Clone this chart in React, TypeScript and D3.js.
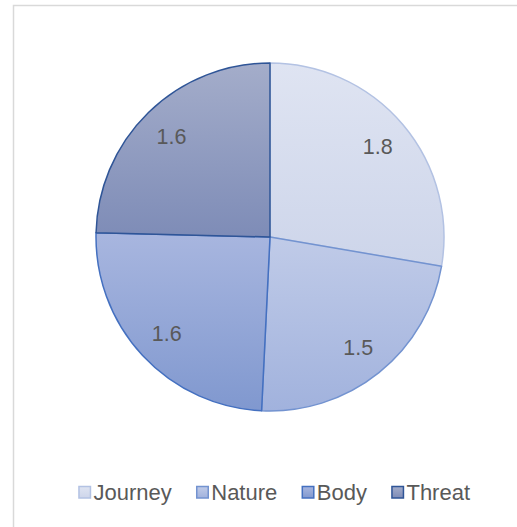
import * as d3 from 'd3';
import { useEffect, useRef } from 'react';

const categories = ['Journey', 'Nature', 'Body', 'Threat'];
const values = [1.8, 1.5, 1.6, 1.6];
const gradTop = ['#dfe4f2', '#c0cbe8', '#a8b6df', '#a4adca'];
const gradBottom = ['#cdd5ea', '#a1b2dd', '#8098cf', '#7e8cb7'];
const strokes = ['#b3c2e3', '#7393d0', '#4470c0', '#2f5597'];

export default function App() {
  const svgRef = useRef<SVGSVGElement>(null);

  useEffect(() => {
    const svgElement = svgRef.current;
    if (!svgElement) return;
    const svg = d3.select(svgElement);
    svg.selectAll('*').remove();

    const width = 517;
    const height = 527;
    const cx = 270;
    const cy = 237;
    const radius = 174;
    const font = '"Liberation Sans", Arial, sans-serif';

    // chart border (runs off the right/bottom edge)
    svg
      .append('rect')
      .attr('x', 13.5)
      .attr('y', 5.5)
      .attr('width', width + 20)
      .attr('height', height + 20)
      .attr('fill', '#fff')
      .attr('stroke', '#d9d9d9')
      .attr('stroke-width', 1.5);

    const defs = svg.append('defs');
    categories.forEach((c, i) => {
      const g = defs
        .append('linearGradient')
        .attr('id', `grad-${i}`)
        .attr('x1', 0)
        .attr('y1', 0)
        .attr('x2', 0)
        .attr('y2', 1);
      g.append('stop').attr('offset', '0%').attr('stop-color', gradTop[i]);
      g.append('stop').attr('offset', '100%').attr('stop-color', gradBottom[i]);
    });

    const data = categories.map((c, i) => ({ name: c, value: values[i], i }));
    const pie = d3.pie<any>().sort(null).value((d) => d.value);
    const arc = d3.arc<any>().innerRadius(0).outerRadius(radius);
    const labelArc = d3.arc<any>().innerRadius(141).outerRadius(141);

    const g = svg.append('g').attr('transform', `translate(${cx},${cy})`);
    const arcs = pie(data);

    g.selectAll('path')
      .data(arcs)
      .join('path')
      .attr('d', arc)
      .attr('fill', (d) => `url(#grad-${d.data.i})`)
      .attr('stroke', (d) => strokes[d.data.i])
      .attr('stroke-width', 1.5)
      .attr('stroke-linejoin', 'round');

    g.selectAll('text.label')
      .data(arcs)
      .join('text')
      .attr('class', 'label')
      .attr('transform', (d) => `translate(${labelArc.centroid(d)})`)
      .attr('text-anchor', 'middle')
      .attr('dy', '0.36em')
      .attr('font-family', font)
      .attr('font-size', '21.5px')
      .attr('fill', '#595959')
      .text((d) => d.data.value.toFixed(1));

    // legend
    const legend = svg.append('g');
    const items = legend
      .selectAll('g')
      .data(data)
      .join('g');
    items
      .append('rect')
      .attr('y', 0.5)
      .attr('width', 11.5)
      .attr('height', 11.5)
      .attr('fill', (d) => `url(#grad-${d.i})`)
      .attr('stroke', (d) => strokes[d.i])
      .attr('stroke-width', 1.5);
    items
      .append('text')
      .attr('x', 14.5)
      .attr('y', 13.5)
      .attr('font-family', font)
      .attr('font-size', '22px')
      .attr('fill', '#595959')
      .text((d) => d.name);

    const gap = 25;
    const widths: number[] = [];
    items.each(function () {
      widths.push((this as SVGGElement).getBBox().width);
    });
    const total = d3.sum(widths) + gap * (widths.length - 1);
    let x = 274.5 - total / 2;
    items.attr('transform', (_d, i) => {
      const t = `translate(${x},486)`;
      x += widths[i] + gap;
      return t;
    });
  }, []);

  return (
    <div style={{ position: 'absolute', left: 0, top: 0, background: '#fff' }}>
      <svg ref={svgRef} width={517} height={527} style={{ display: 'block' }} />
    </div>
  );
}
